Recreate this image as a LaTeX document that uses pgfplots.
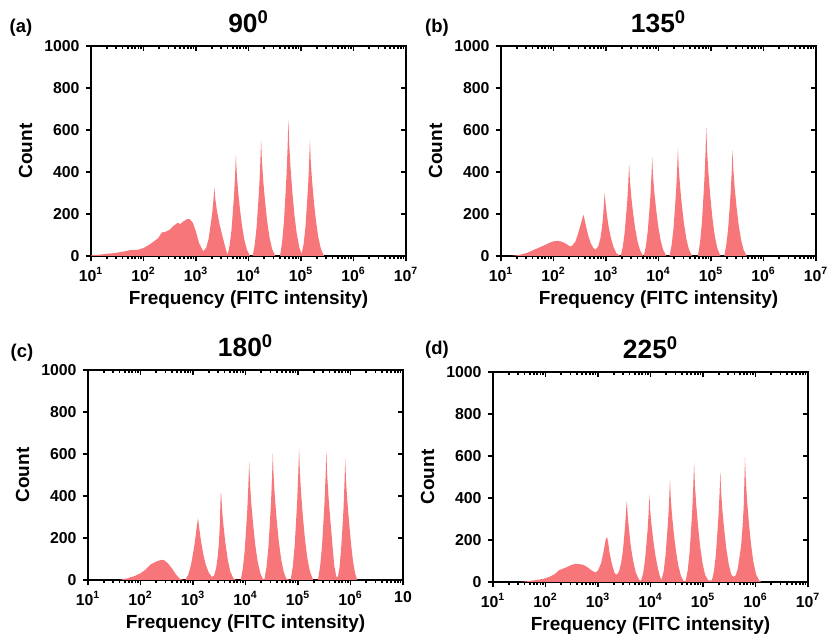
\documentclass[border=0pt]{standalone}
\usepackage{fontspec}
\setmainfont{Liberation Sans}
\usepackage{pgfplots}
\pgfplotsset{compat=1.18}
\definecolor{histfill}{RGB}{246,118,122}

\pgfplotsset{
  panel/.style={
    scale only axis, width=6.3cm, height=4.2cm,
    xmin=1, xmax=7, ymin=0, ymax=1000,
    xtick={1,2,3,4,5,6,7},
    minor xtick={1.301,1.477,1.602,1.699,1.778,1.845,1.903,1.954,
                 2.301,2.477,2.602,2.699,2.778,2.845,2.903,2.954,
                 3.301,3.477,3.602,3.699,3.778,3.845,3.903,3.954,
                 4.301,4.477,4.602,4.699,4.778,4.845,4.903,4.954,
                 5.301,5.477,5.602,5.699,5.778,5.845,5.903,5.954,
                 6.301,6.477,6.602,6.699,6.778,6.845,6.903,6.954},
    ytick={0,200,400,600,800,1000},
    axis line style={line width=1.3pt},
    tick style={line width=1pt, black},
    major tick length=3pt, minor tick length=1.8pt,
    clip=false,
  },
  lower/.style={panel,
    tick align=outside, xtick pos=left, ytick pos=left,
    xticklabels={10\textsuperscript{1},10\textsuperscript{2},10\textsuperscript{3},10\textsuperscript{4},10\textsuperscript{5},10\textsuperscript{6},10\textsuperscript{7}},
    yticklabels={0,200,400,600,800,1000},
    ticklabel style={font=\bfseries\fontsize{9}{10}\selectfont},
    xlabel={Frequency (FITC intensity)}, ylabel={Count},
    label style={font=\bfseries\fontsize{10.8}{12}\selectfont},
    xlabel style={yshift=2pt},
    title style={font=\bfseries\fontsize{15}{16}\selectfont, yshift=-2pt},
  },
  upper/.style={panel,
    tick align=inside, xtick pos=right, ytick pos=right,
    xticklabels={}, yticklabels={},
    axis line style={draw=none},
  },
  hist/.style={fill=histfill, draw=none},
}

\begin{document}
\begin{tikzpicture}
\useasboundingbox (0,0) rectangle (16.54,12.68);

% (a) 90 degrees
\begin{axis}[lower, at={(1.82cm,7.56cm)}, anchor=south west, title={90\textsuperscript{0}}]
\addplot[hist] table {
1.00 3
1.15 6
1.30 10
1.45 14
1.60 20
1.75 28
1.90 30
2.00 38
2.10 52
2.20 70
2.28 85
2.35 112
2.42 115
2.50 125
2.58 145
2.65 158
2.70 152
2.76 165
2.83 175
2.88 176
2.94 158
3.00 115
3.06 60
3.14 22
3.195 40
3.24 81
3.272 137
3.305 195
3.33 260
3.35 325
3.37 267
3.402 211
3.447 153
3.50 98
3.56 40
3.60 5
3.64 49
3.675 121
3.70 204
3.725 291
3.745 388
3.76 485
3.775 398
3.80 315
3.835 228
3.875 146
3.92 78
3.97 29
4.03 0
4.08 0
4.12 56
4.155 139
4.18 233
4.205 333
4.225 444
4.24 555
4.255 455
4.28 361
4.315 261
4.355 167
4.40 89
4.45 33
4.51 0
4.60 0
4.64 65
4.675 163
4.70 273
4.725 390
4.745 520
4.76 650
4.775 533
4.80 423
4.835 306
4.875 195
4.92 104
4.97 39
5.01 10
5.05 56
5.085 139
5.11 233
5.135 333
5.155 444
5.17 555
5.185 455
5.21 361
5.245 261
5.285 167
5.33 89
5.38 33
5.44 0
} \closedcycle;
\end{axis}
\begin{axis}[upper, at={(1.82cm,7.56cm)}, anchor=south west]
\end{axis}

% (b) 135 degrees
\begin{axis}[lower, at={(10.02cm,7.56cm)}, anchor=south west, title={135\textsuperscript{0}}]
\addplot[hist] table {
1.19 0
1.35 5
1.50 15
1.65 32
1.80 48
1.92 62
2.00 70
2.08 72
2.16 68
2.24 58
2.32 45
2.36 50
2.42 70
2.46 100
2.50 135
2.53 160
2.555 185
2.575 195
2.595 170
2.625 135
2.665 95
2.71 60
2.76 38
2.80 30
2.85 45
2.89 80
2.92 130
2.945 190
2.96 250
2.975 300
2.99 255
3.015 200
3.05 140
3.09 90
3.14 45
3.20 12
3.27 0
3.28 0
3.32 44
3.355 110
3.38 185
3.405 264
3.425 352
3.44 440
3.455 361
3.48 286
3.515 207
3.555 132
3.60 70
3.65 26
3.71 0
3.72 0
3.76 47
3.795 118
3.82 197
3.845 282
3.865 376
3.88 470
3.895 385
3.92 306
3.955 221
3.995 141
4.04 75
4.09 28
4.15 0
4.21 0
4.25 52
4.285 129
4.31 216
4.335 309
4.355 412
4.37 515
4.385 422
4.41 335
4.445 242
4.485 155
4.53 82
4.58 31
4.64 0
4.75 0
4.79 62
4.825 154
4.85 258
4.875 369
4.895 492
4.91 615
4.925 504
4.95 400
4.985 289
5.025 185
5.07 98
5.12 37
5.18 0
5.25 0
5.29 51
5.325 126
5.35 212
5.375 303
5.395 404
5.41 505
5.425 414
5.45 328
5.485 237
5.525 152
5.57 81
5.62 30
5.68 0
} \closedcycle;
\end{axis}
\begin{axis}[upper, at={(10.02cm,7.56cm)}, anchor=south west]
\end{axis}

% (c) 180 degrees
\begin{axis}[lower, at={(1.76cm,1.08cm)}, anchor=south west, title={180\textsuperscript{0}},
  xticklabels={10\textsuperscript{1},10\textsuperscript{2},10\textsuperscript{3},10\textsuperscript{4},10\textsuperscript{5},10\textsuperscript{6},10}]
\addplot[hist] table {
1.60 0
1.75 8
1.90 20
2.00 32
2.10 50
2.20 75
2.30 88
2.40 96
2.45 94
2.52 80
2.60 55
2.68 25
2.75 6
2.82 0
2.85 0
2.91 25
2.96 70
3.00 125
3.035 180
3.065 240
3.095 295
3.12 245
3.15 190
3.19 130
3.24 75
3.30 35
3.36 15
3.40 20
3.44 55
3.47 110
3.495 180
3.51 260
3.522 360
3.53 420
3.54 400
3.555 330
3.58 260
3.615 180
3.66 100
3.71 40
3.77 8
3.82 0
3.91 0
3.95 57
3.985 141
4.01 237
4.035 339
4.055 452
4.07 565
4.085 463
4.11 367
4.145 266
4.185 170
4.23 90
4.28 34
4.33 5
4.36 3
4.40 61
4.435 151
4.46 254
4.485 363
4.505 484
4.52 605
4.535 496
4.56 393
4.595 284
4.635 182
4.68 97
4.73 36
4.78 5
4.86 0
4.90 63
4.935 158
4.96 265
4.985 378
5.005 504
5.02 630
5.035 517
5.06 410
5.095 296
5.135 189
5.18 101
5.23 38
5.29 0
5.38 0
5.42 62
5.455 154
5.48 258
5.505 369
5.525 492
5.54 615
5.555 504
5.58 400
5.615 289
5.655 170
5.69 70
5.73 15
5.76 15
5.79 58
5.82 144
5.845 242
5.868 345
5.885 460
5.90 575
5.915 472
5.94 374
5.975 270
6.01 173
6.05 85
6.09 30
6.13 0
} \closedcycle;
\end{axis}
\begin{axis}[upper, at={(1.76cm,1.08cm)}, anchor=south west]
\end{axis}

% (d) 225 degrees
\begin{axis}[lower, at={(9.86cm,1.04cm)}, anchor=south west, title={225\textsuperscript{0}}]
\addplot[hist] table {
1.52 0
1.70 5
1.85 10
1.96 15
2.08 25
2.18 38
2.25 55
2.32 62
2.40 70
2.48 80
2.56 86
2.64 85
2.72 82
2.80 70
2.88 55
2.95 45
3.00 55
3.06 90
3.11 150
3.145 200
3.17 215
3.19 195
3.22 140
3.27 80
3.32 40
3.36 35
3.40 50
3.44 90
3.475 150
3.50 220
3.525 300
3.54 360
3.55 385
3.565 320
3.59 250
3.625 170
3.67 100
3.72 45
3.78 12
3.82 5
3.86 42
3.895 104
3.92 174
3.945 249
3.965 332
3.98 415
3.995 340
4.02 270
4.055 195
4.095 125
4.14 66
4.18 25
4.21 10
4.25 49
4.285 123
4.31 206
4.335 294
4.355 392
4.37 490
4.385 402
4.41 319
4.445 230
4.485 147
4.53 78
4.58 29
4.63 5
4.67 5
4.71 57
4.745 143
4.77 239
4.795 342
4.815 456
4.83 570
4.845 467
4.87 371
4.905 268
4.945 171
4.99 91
5.04 34
5.10 8
5.17 8
5.21 53
5.245 131
5.27 221
5.295 315
5.315 420
5.33 525
5.345 431
5.37 341
5.405 247
5.445 158
5.49 84
5.54 35
5.58 25
5.62 30
5.66 60
5.69 110
5.725 170
5.75 250
5.775 357
5.788 476
5.80 595
5.815 488
5.84 387
5.875 280
5.915 179
5.96 95
6.01 36
6.07 8
6.11 0
} \closedcycle;
\end{axis}
\begin{axis}[upper, at={(9.86cm,1.04cm)}, anchor=south west]
\end{axis}

\node[font=\bfseries\fontsize{10.5}{12}\selectfont] at (0.42,12.12) {(a)};
\node[font=\bfseries\fontsize{10.5}{12}\selectfont] at (8.74,12.12) {(b)};
\node[font=\bfseries\fontsize{10.5}{12}\selectfont] at (0.44,5.62) {(c)};
\node[font=\bfseries\fontsize{10.5}{12}\selectfont] at (8.74,5.68) {(d)};
\end{tikzpicture}
\end{document}
